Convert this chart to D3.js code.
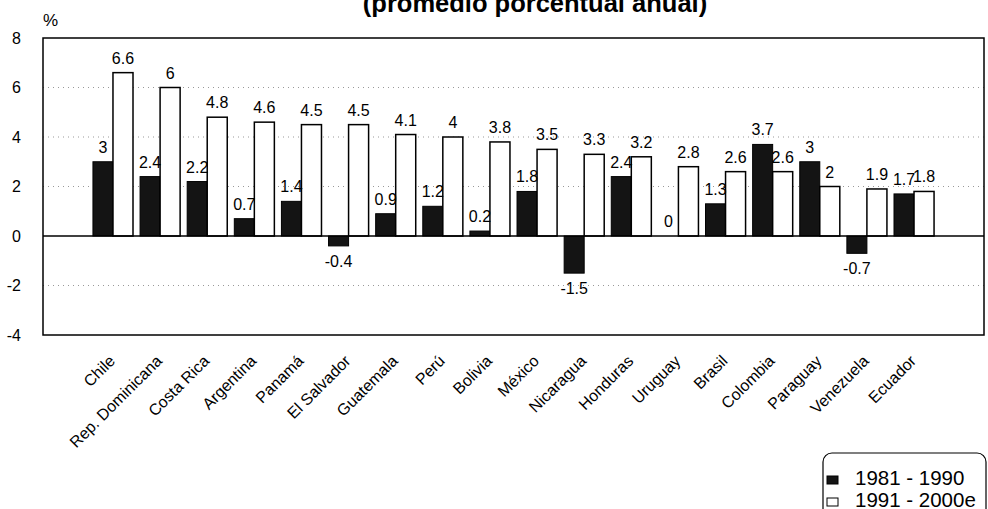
<!DOCTYPE html>
<html>
<head>
<meta charset="utf-8">
<script src="https://cdn.jsdelivr.net/npm/d3@7"></script>
<style>
  body { margin: 0; background: #fff; }
  svg { display: block; font-family: "Liberation Sans", Arial, sans-serif; }
</style>
</head>
<body>
<script>
// Data
const paises = ["Chile", "Rep. Dominicana", "Costa Rica", "Argentina", "Panamá", "El Salvador",
  "Guatemala", "Perú", "Bolivia", "México", "Nicaragua", "Honduras", "Uruguay", "Brasil",
  "Colombia", "Paraguay", "Venezuela", "Ecuador"];
const serie1981 = [3, 2.4, 2.2, 0.7, 1.4, -0.4, 0.9, 1.2, 0.2, 1.8, -1.5, 2.4, 0, 1.3, 3.7, 3, -0.7, 1.7];
const serie1991 = [6.6, 6, 4.8, 4.6, 4.5, 4.5, 4.1, 4, 3.8, 3.5, 3.3, 3.2, 2.8, 2.6, 2.6, 2, 1.9, 1.8];
const yTicks = [-4, -2, 0, 2, 4, 6, 8];
const legendLabels = ["1981 - 1990", "1991 - 2000e"];

const width = 988, height = 509;
const plot = { left: 43, right: 984, top: 38, bottom: 335 };

const svg = d3.select("body").append("svg")
  .attr("width", width)
  .attr("height", height);

const x = d3.scaleBand()
  .domain(paises)
  .range([plot.left, plot.right])
  .paddingInner(0.15)
  .paddingOuter(1.06);

const y = d3.scaleLinear()
  .domain([-4, 8])
  .range([plot.bottom, plot.top]);

const half = x.bandwidth() / 2;

// title (its first line is cut off in the reference)
svg.append("text")
  .attr("x", 535)
  .attr("y", 12)
  .attr("text-anchor", "middle")
  .attr("font-size", 25.5)
  .attr("font-weight", "bold")
  .text("(promedio porcentual anual)");

svg.append("text")
  .attr("x", 43)
  .attr("y", 26)
  .attr("font-size", 17)
  .text("%");

// dotted grid
svg.append("g")
  .selectAll("line")
  .data(yTicks.filter(d => d !== 0 && d !== 8 && d !== -4))
  .join("line")
  .attr("x1", plot.left)
  .attr("x2", plot.right)
  .attr("y1", d => y(d))
  .attr("y2", d => y(d))
  .attr("stroke", "#999")
  .attr("stroke-width", 1)
  .attr("stroke-dasharray", "1,4");

// y axis labels
const yAxis = d3.axisLeft(y)
  .tickValues(yTicks)
  .tickFormat(d => String(d))
  .tickSize(0)
  .tickPadding(22);
svg.append("g")
  .attr("transform", `translate(${plot.left},0)`)
  .call(yAxis)
  .call(g => g.select(".domain").remove())
  .call(g => g.selectAll("text")
    .attr("font-size", 16)
    .attr("font-family", "Liberation Sans, Arial, sans-serif")
    .attr("fill", "#000"));

// bars 1981-1990
svg.append("g")
  .selectAll("rect")
  .data(paises.map((p, i) => ({ p, v: serie1981[i] })))
  .join("rect")
  .attr("x", d => x(d.p))
  .attr("y", d => y(Math.max(0, d.v)))
  .attr("width", half)
  .attr("height", d => Math.abs(y(d.v) - y(0)))
  .attr("fill", "#141414")
  .attr("stroke", "#000")
  .attr("stroke-width", 1);

// bars 1991-2000e
svg.append("g")
  .selectAll("rect")
  .data(paises.map((p, i) => ({ p, v: serie1991[i] })))
  .join("rect")
  .attr("x", d => x(d.p) + half)
  .attr("y", d => y(Math.max(0, d.v)))
  .attr("width", half)
  .attr("height", d => Math.abs(y(d.v) - y(0)))
  .attr("fill", "#fff")
  .attr("stroke", "#000")
  .attr("stroke-width", 1.5);

// value labels
function labels(data, offset) {
  svg.append("g")
    .selectAll("text")
    .data(paises.map((p, i) => ({ p, v: data[i] })))
    .join("text")
    .attr("x", d => x(d.p) + offset + half / 2)
    .attr("y", d => d.v < 0 ? y(d.v) + 21 : y(d.v) - 9)
    .attr("text-anchor", "middle")
    .attr("font-size", 16)
    .text(d => d.v);
}
labels(serie1981, 0);
labels(serie1991, half);

// zero line and frame
svg.append("line")
  .attr("x1", plot.left).attr("x2", plot.right)
  .attr("y1", y(0)).attr("y2", y(0))
  .attr("stroke", "#000").attr("stroke-width", 1.5);

svg.append("rect")
  .attr("x", plot.left)
  .attr("y", plot.top)
  .attr("width", plot.right - plot.left)
  .attr("height", plot.bottom - plot.top)
  .attr("fill", "none")
  .attr("stroke", "#000")
  .attr("stroke-width", 1.5);

// category labels, rotated
svg.append("g")
  .selectAll("text")
  .data(paises)
  .join("text")
  .attr("transform", d => `translate(${x(d) + half + 3},362) rotate(-45)`)
  .attr("text-anchor", "end")
  .attr("font-size", 16)
  .text(d => d);

// legend
const legend = svg.append("g");
legend.append("rect")
  .attr("x", 823).attr("y", 453)
  .attr("width", 163).attr("height", 70)
  .attr("rx", 9)
  .attr("fill", "#fff")
  .attr("stroke", "#000")
  .attr("stroke-width", 1.2);

legend.selectAll("g.item")
  .data(legendLabels)
  .join("g")
  .attr("class", "item")
  .attr("transform", (d, i) => `translate(827,${476 + i * 22})`)
  .each(function (d, i) {
    const g = d3.select(this);
    g.append("rect")
      .attr("width", 11).attr("height", 8)
      .attr("fill", i === 0 ? "#141414" : "#fff")
      .attr("stroke", "#000").attr("stroke-width", 1);
    g.append("text")
      .attr("x", 28).attr("y", 9)
      .attr("font-size", 20.5)
      .text(d);
  });
</script>
</body>
</html>
